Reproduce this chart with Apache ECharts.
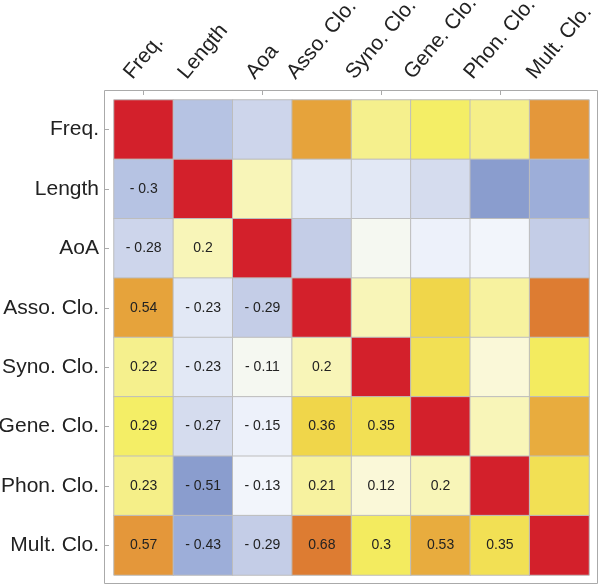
<!DOCTYPE html>
<html>
<head>
<meta charset="utf-8">
<script src="https://cdn.jsdelivr.net/npm/echarts@6/dist/echarts.min.js"></script>
<style>
html,body{margin:0;padding:0;background:#fff;}
#chart{width:600px;height:585px;}
</style>
</head>
<body>
<div id="chart"></div>
<script>
// Column labels (top) and row labels (left)
var colLabels = ['Freq.', 'Length', 'Aoa', 'Asso. Clo.', 'Syno. Clo.', 'Gene. Clo.', 'Phon. Clo.', 'Mult. Clo.'];
var rowLabels = ['Freq.', 'Length', 'AoA', 'Asso. Clo.', 'Syno. Clo.', 'Gene. Clo.', 'Phon. Clo.', 'Mult. Clo.'];

// Lower-triangle correlations (row i, columns 0..i-1)
var rowLength = [-0.3];
var rowAoA    = [-0.28, 0.2];
var rowAsso   = [0.54, -0.23, -0.29];
var rowSyno   = [0.22, -0.23, -0.11, 0.2];
var rowGene   = [0.29, -0.27, -0.15, 0.36, 0.35];
var rowPhon   = [0.23, -0.51, -0.13, 0.21, 0.12, 0.2];
var rowMult   = [0.57, -0.43, -0.29, 0.68, 0.3, 0.53, 0.35];
var diagonalValue = 1;

var lower = [[], rowLength, rowAoA, rowAsso, rowSyno, rowGene, rowPhon, rowMult];

// colour scale anchors (value -> colour)
var anchors = [
  [-0.60, '#7f93ca'], [-0.51, '#8a9dce'], [-0.43, '#9daed9'], [-0.30, '#b6c3e3'],
  [-0.29, '#c4cde7'], [-0.27, '#d5dcee'], [-0.23, '#e2e8f5'], [-0.15, '#edf1fa'],
  [-0.13, '#f2f5fb'], [-0.11, '#f5f8f1'], [0.00, '#fbfaec'], [0.12, '#faf8d8'],
  [0.20, '#f8f5b8'], [0.21, '#f7f29f'], [0.22, '#f5f08d'], [0.23, '#f5ef88'],
  [0.29, '#f4ee66'], [0.30, '#f3eb5f'], [0.35, '#f2e054'], [0.36, '#f0d64a'],
  [0.53, '#e8ac3e'], [0.54, '#e6a33b'], [0.57, '#e4973a'], [0.68, '#dd7c32'],
  [0.85, '#d84a2e'], [1.00, '#d3202b']
];
function hex2rgb(h){return [parseInt(h.substr(1,2),16),parseInt(h.substr(3,2),16),parseInt(h.substr(5,2),16)];}
function colorAt(v){
  for (var k=0;k<anchors.length-1;k++){
    var a=anchors[k], b=anchors[k+1];
    if (v<=b[0]+1e-9){
      var t=(v-a[0])/(b[0]-a[0]); if(t<0)t=0;
      var ca=hex2rgb(a[1]), cb=hex2rgb(b[1]);
      return 'rgb('+ca.map(function(c,i){return Math.round(c+(cb[i]-c)*t);}).join(',')+')';
    }
  }
  return anchors[anchors.length-1][1];
}
var scaleMin=-0.6, scaleMax=1.0, scaleColors=[];
for (var s=0;s<=160;s++){ scaleColors.push(colorAt(scaleMin+s*0.01)); }

var data=[];
for (var i=0;i<8;i++){
  for (var j=0;j<8;j++){
    var v, showLabel=false;
    if (i===j) v=diagonalValue;
    else if (j<i){ v=lower[i][j]; showLabel=true; }
    else v=lower[j][i];
    data.push({value:[j,i,v], label:{show:showLabel}});
  }
}

var FONT='Liberation Sans, Arial, sans-serif';
var labelSize=21, labelAngle=50, boxH=18, labelBottom=82;

var chart=echarts.init(document.getElementById('chart'),null,{renderer:'canvas'});
chart.setOption({
  animation:false,
  backgroundColor:'#fff',
  textStyle:{fontFamily:FONT},
  grid:{left:114,top:100,width:475,height:475,containLabel:false,outerBoundsMode:'none'},
  xAxis:{
    type:'category', position:'top', data:colLabels, offset:10,
    axisLine:{show:false},
    axisTick:{show:true,inside:true,length:5,alignWithLabel:true,lineStyle:{color:'#aaa'}},
    axisLabel:{show:false},
    splitLine:{show:false}
  },
  yAxis:{
    type:'category', data:rowLabels, inverse:true, offset:10,
    axisLine:{show:false},
    axisTick:{show:true,inside:true,length:5,alignWithLabel:true,lineStyle:{color:'#aaa'}},
    axisLabel:{interval:0,margin:5,fontSize:labelSize,color:'#222',fontFamily:FONT},
    splitLine:{show:false}
  },
  visualMap:{show:false,type:'continuous',min:scaleMin,max:scaleMax,dimension:2,inRange:{color:scaleColors}},
  series:[{
    type:'heatmap', data:data,
    itemStyle:{borderColor:'#bdbdbd',borderWidth:1},
    label:{fontSize:14,color:'#222',fontFamily:FONT,
      formatter:function(p){var v=p.value[2];return v<0?'- '+Math.abs(v):String(v);}},
    emphasis:{disabled:true}
  }]
});

// top labels: rotated text whose bounding box is centred over each column tick
var th=labelAngle*Math.PI/180;
var ctx=document.createElement('canvas').getContext('2d');
ctx.font=labelSize+'px "Liberation Sans", Arial, sans-serif';
var graphics=[{type:'rect',shape:{x:104.5,y:90.5,width:493,height:493},style:{fill:null,stroke:'#aaa',lineWidth:1},silent:true}];
colLabels.forEach(function(name, j){
  var px=chart.convertToPixel({gridIndex:0},[j,0]);
  var w=ctx.measureText(name).width;
  graphics.push({
    type:'text', silent:true,
    x: px[0]-w*Math.cos(th)/2,
    y: labelBottom-(boxH/2)*Math.cos(th),
    rotation: th,
    style:{text:name, fontSize:labelSize, fontFamily:FONT, fill:'#222', align:'left', verticalAlign:'middle'}
  });
});
chart.setOption({graphic:graphics});
</script>
</body>
</html>
